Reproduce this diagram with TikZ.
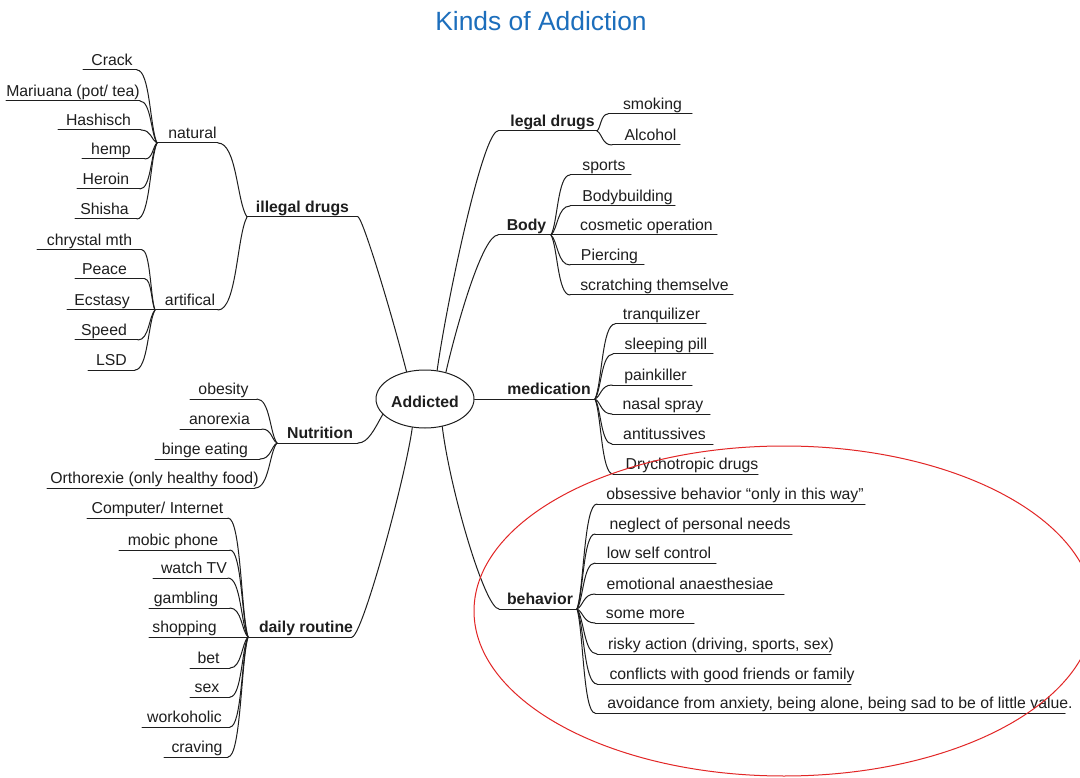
\documentclass[tikz,border=0pt]{standalone}
\usepackage{fontspec}
\setmainfont{Liberation Sans}
\usetikzlibrary{shapes.geometric,calc}

\definecolor{titleblue}{RGB}{28,110,188}
\definecolor{markred}{RGB}{226,38,38}
\definecolor{ink}{RGB}{30,30,30}

\newcommand\mmfont{\fontsize{15.8}{19}\selectfont}

% \mmnode[text shift]{name}{style}{x left}{x right}{y of underline}{text}
% an underlined label whose bottom edge is the underline
\newcommand\mmnode[7][0]{%
  \pgfmathsetmacro\mmwidth{#5-#4}%
  \node[#3, minimum width=\mmwidth pt] (#2) at (#4,#6)
    {\makebox[0pt]{\hspace*{#1pt}\hspace*{#1pt}#7}};%
  \draw[uline] (#2.south west) -- (#2.south east);%
}

% \mmlink{junction anchor}{child anchor}: soft branch that ends horizontally
\newcommand\mmlink[2]{%
  \draw[conn] let \p1=(#1), \p2=(#2) in
    (#1) .. controls (0.65*\x1+0.35*\x2, 0.8*\y1+0.2*\y2)
            and (0.65*\x1+0.35*\x2, \y2) .. (#2);%
}

\begin{document}
\begin{tikzpicture}[x=1pt, y=-1pt, line cap=round, line join=round,
  leaf/.style={font=\mmfont, text=ink, inner sep=0pt, outer sep=0pt,
    anchor=south west, text height=11.5pt, text depth=4.5pt},
  branch/.style={leaf, font=\mmfont\bfseries},
  uline/.style={draw=ink, line width=1pt},
  conn/.style={draw=ink, line width=1pt}]

\useasboundingbox (0,0) rectangle (1080,778);
\clip (0,0) rectangle (1080,778);
\fill[white] (0,0) rectangle (1080,778);

% title
\node[font=\fontsize{26.4}{30}\selectfont, text=titleblue, anchor=base,
  inner sep=0pt] (title) at (541,31) {Kinds of Addiction};

% centre
\node[ellipse, draw=ink, line width=1pt, minimum width=98pt,
  minimum height=58pt, inner sep=0pt, font=\mmfont\bfseries, text=ink,
  text height=16pt, text depth=0pt]
  (addicted) at (425,399) {Addicted};

% ---- illegal drugs
\mmnode{illegal}{branch}{247}{358}{217}{illegal drugs}
\mmnode[5]{natural}{leaf}{157}{218}{143}{natural}
\mmnode[3.5]{artifical}{leaf}{155}{218}{310}{artifical}
\mmnode[2]{crack}{leaf}{83}{137}{70}{Crack}
\mmnode{mariuana}{leaf}{6}{140}{101}{Mariuana (pot/ tea)}
\mmnode[-1]{hashisch}{leaf}{58}{141}{130}{Hashisch}
\mmnode[-2.5]{hemp}{leaf}{82}{145}{159}{hemp}
\mmnode[-2.5]{heroin}{leaf}{77}{140}{189}{Heroin}
\mmnode[-1.5]{shisha}{leaf}{75}{137}{219}{Shisha}
\mmnode{chrystal}{leaf}{37}{142}{250}{chrystal mth}
\mmnode[-5.5]{peace}{leaf}{75}{145}{279}{Peace}
\mmnode[-8]{ecstasy}{leaf}{67}{153}{310}{Ecstasy}
\mmnode[-2.5]{speed}{leaf}{75}{138}{340}{Speed}
\mmnode{lsd}{leaf}{88}{135}{370}{LSD}

% ---- Nutrition
\mmnode[2.5]{nutrition}{branch}{277}{358}{443}{Nutrition}
\mmnode{obesity}{leaf}{190}{257}{399}{obesity}
\mmnode[-1.5]{anorexia}{leaf}{180}{262}{429}{anorexia}
\mmnode[-2.5]{binge}{leaf}{155}{260}{459}{binge eating}
\mmnode[3.5]{orthorexie}{leaf}{47}{255}{488}{Orthorexie (only healthy food)}

% ---- daily routine
\mmnode[6]{daily}{branch}{248}{352}{637}{daily routine}
\mmnode{computer}{leaf}{87}{228}{518}{Computer/ Internet}
\mmnode[-1.5]{mobic}{leaf}{119}{230}{550}{mobic phone}
\mmnode[3.5]{watchtv}{leaf}{153}{228}{578}{watch TV}
\mmnode[-3.5]{gambling}{leaf}{149}{230}{608}{gambling}
\mmnode[-13]{shopping}{leaf}{149}{246}{637}{shopping}
\mmnode[-1.5]{bet}{leaf}{190}{230}{668}{bet}
\mmnode[-3]{sex}{leaf}{190}{230}{697}{sex}
\mmnode[-1.5]{workoholic}{leaf}{142}{230}{727}{workoholic}
\mmnode[1]{craving}{leaf}{164}{228}{757}{craving}

% ---- legal drugs
\mmnode[5]{legal}{branch}{498}{597}{131}{legal drugs}
\mmnode[2.5]{smoking}{leaf}{608}{692}{114}{smoking}
\mmnode[4.5]{alcohol}{leaf}{612}{680}{145}{Alcohol}

% ---- Body
\mmnode[2]{body}{branch}{498}{551}{235}{Body}
\mmnode[3.5]{sports}{leaf}{570}{631}{175}{sports}
\mmnode[5]{bodybuilding}{leaf}{570}{675}{206}{Bodybuilding}
\mmnode[10]{cosmetic}{leaf}{556}{717}{235}{cosmetic operation}
\mmnode[2.5]{piercing}{leaf}{570}{644}{265}{Piercing}
\mmnode[3]{scratching}{leaf}{570}{733}{295}{scratching themselve}

% ---- medication
\mmnode[1.5]{medication}{branch}{500}{595}{399}{medication}
\mmnode[1]{tranquilizer}{leaf}{615}{706}{324}{tranquilizer}
\mmnode[3]{sleeping}{leaf}{613}{713}{354}{sleeping pill}
\mmnode[3.5]{painkiller}{leaf}{612}{692}{385}{painkiller}
\mmnode[2]{nasal}{leaf}{612}{710}{414}{nasal spray}
\mmnode[2]{antitussives}{leaf}{612}{713}{444}{antitussives}
\mmnode[6.5]{drychotropic}{leaf}{613}{758}{474}{Drychotropic drugs}

% ---- behavior
\mmnode[2]{behavior}{branch}{499}{577}{609}{behavior}
\mmnode[4]{obsessive}{leaf}{597}{865}{504}{obsessive behavior “only in this way”}
\mmnode[6.5]{neglect}{leaf}{595}{792}{534}{neglect of personal needs}
\mmnode[3.5]{lowself}{leaf}{595}{716}{563}{low self control}
\mmnode[0.5]{emotional}{leaf}{595}{784}{594}{emotional anaesthesiae}
\mmnode[1]{somemore}{leaf}{595}{694}{623}{some more}
\mmnode[7]{risky}{leaf}{597}{831}{654}{risky action (driving, sports, sex)}
\mmnode[8]{conflicts}{leaf}{597}{851}{684}{conflicts with good friends or family}
\mmnode[10]{avoidance}{leaf}{595}{1065}{713}{avoidance from anxiety, being alone, being sad to be of little value.}

% main branches out of the centre
\draw[conn] (addicted.67) .. controls (447,300) and (483,131) .. (legal.south west);
\draw[conn] (addicted.52) .. controls (458,320) and (483,235) .. (body.south west);
\draw[conn] (addicted.east) -- (medication.south west);
\draw[conn] (addicted.302) .. controls (450,490) and (485,609) .. (behavior.south west);
\draw[conn] (addicted.124) .. controls (388,300) and (362,217) .. (illegal.south east);
\draw[conn] (addicted.200) .. controls (374,430) and (368,443) .. (nutrition.south east);
\draw[conn] (addicted.246) .. controls (405,480) and (362,637) .. (daily.south east);

% sub branches
\mmlink{illegal.south west}{natural.south east}
\mmlink{illegal.south west}{artifical.south east}
\foreach \lf in {crack,mariuana,hashisch,hemp,heroin,shisha}
  {\mmlink{natural.south west}{\lf.south east}}
\foreach \lf in {chrystal,peace,ecstasy,speed,lsd}
  {\mmlink{artifical.south west}{\lf.south east}}
\foreach \lf in {obesity,anorexia,binge,orthorexie}
  {\mmlink{nutrition.south west}{\lf.south east}}
\foreach \lf in {computer,mobic,watchtv,gambling,shopping,bet,sex,workoholic,craving}
  {\mmlink{daily.south west}{\lf.south east}}
\foreach \lf in {smoking,alcohol}
  {\mmlink{legal.south east}{\lf.south west}}
\foreach \lf in {sports,bodybuilding,cosmetic,piercing,scratching}
  {\mmlink{body.south east}{\lf.south west}}
\foreach \lf in {tranquilizer,sleeping,painkiller,nasal,antitussives,drychotropic}
  {\mmlink{medication.south east}{\lf.south west}}
\foreach \lf in {obsessive,neglect,lowself,emotional,somemore,risky,conflicts,avoidance}
  {\mmlink{behavior.south east}{\lf.south west}}

% hand-drawn highlight round the behaviour branch
\draw[markred, line width=1pt] (784,611) ellipse [x radius=310pt, y radius=165pt];

\end{tikzpicture}
\end{document}
